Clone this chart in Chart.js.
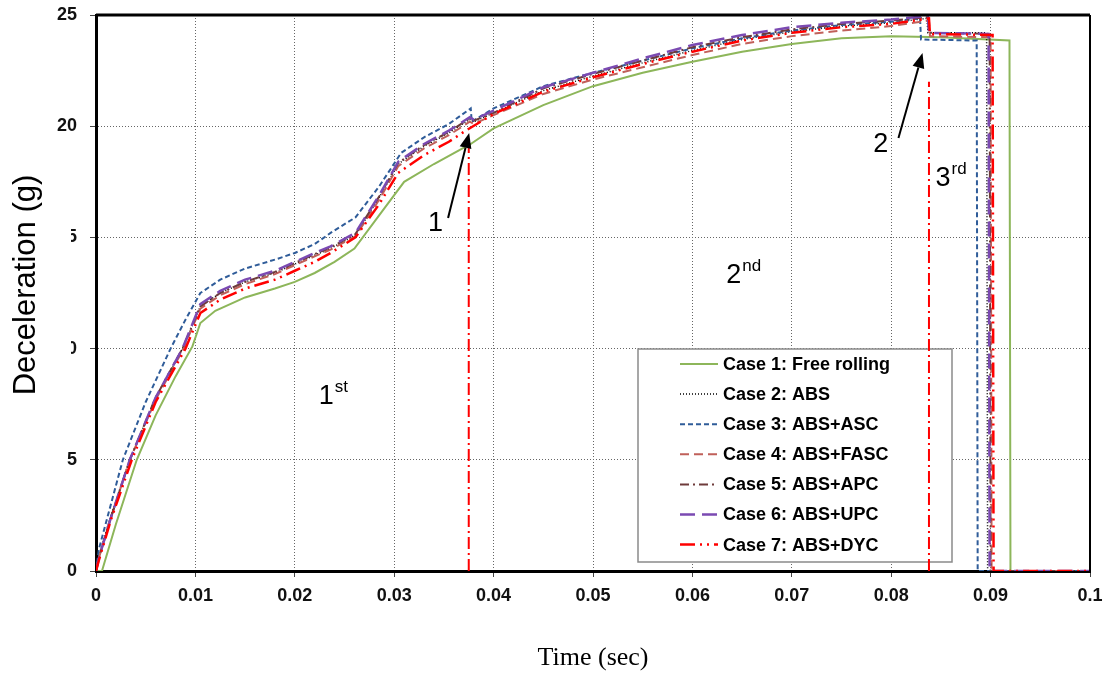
<!DOCTYPE html>
<html lang="en">
<head>
  <meta charset="UTF-8" />
  <title>Deceleration vs Time</title>
  <script src="https://cdn.jsdelivr.net/npm/chart.js@4"></script>
  <style>
    * {
      margin: 0;
      padding: 0;
      box-sizing: border-box;
    }

    body {
      background: #fff;
      width: 1108px;
      height: 677px;
      overflow: hidden;
    }

    .chart-box {
      position: relative;
      width: 1108px;
      height: 677px;
    }
  </style>
</head>
<body>

  <div class="chart-box">
    <canvas id="decelChart"></canvas>
  </div>

  <script>
    // Series: time (sec) and deceleration (g)
    const caseNames = [
      'Case 1: Free rolling', 'Case 2: ABS', 'Case 3: ABS+ASC', 'Case 4: ABS+FASC',
      'Case 5: ABS+APC', 'Case 6: ABS+UPC', 'Case 7: ABS+DYC'
    ];

    const case1T = [0, 0.0006, 0.002, 0.0041, 0.006, 0.008, 0.0097, 0.0105, 0.012, 0.015, 0.018, 0.020, 0.022, 0.024, 0.026, 0.0285, 0.031, 0.034, 0.0377, 0.040, 0.045, 0.050, 0.055, 0.060, 0.065, 0.070, 0.075, 0.080, 0.085, 0.0919, 0.0920, 0.100];
    const case1G = [0, 0, 2.1, 5.0, 7.0, 8.75, 10.1, 11.15, 11.7, 12.3, 12.7, 13.0, 13.4, 13.9, 14.5, 16.0, 17.5, 18.3, 19.2, 19.9, 20.95, 21.8, 22.4, 22.9, 23.35, 23.7, 23.95, 24.05, 24.0, 23.85, 0, 0];

    const case2T = [0, 0.0003, 0.0015, 0.0034, 0.006, 0.0087, 0.0105, 0.0125, 0.015, 0.018, 0.020, 0.022, 0.0236, 0.0261, 0.0285, 0.0304, 0.033, 0.0355, 0.0376, 0.0380, 0.040, 0.045, 0.050, 0.055, 0.060, 0.065, 0.070, 0.075, 0.080, 0.0836, 0.0837, 0.0896, 0.0897, 0.100];
    const case2G = [0, 0.7, 2.5, 5.0, 7.8, 10.0, 11.9, 12.5, 13.0, 13.4, 13.8, 14.2, 14.5, 15.1, 16.8, 18.3, 19.1, 19.7, 20.3, 20.2, 20.6, 21.6, 22.25, 22.85, 23.4, 23.9, 24.25, 24.5, 24.65, 24.85, 24.2, 24.2, 0, 0];

    const case3T = [0, 0.0003, 0.0015, 0.0027, 0.005, 0.0075, 0.009, 0.0105, 0.0125, 0.015, 0.018, 0.020, 0.022, 0.0236, 0.0261, 0.0285, 0.0307, 0.033, 0.0355, 0.0377, 0.0378, 0.040, 0.045, 0.050, 0.055, 0.060, 0.065, 0.070, 0.075, 0.080, 0.0829, 0.0830, 0.0886, 0.0887, 0.100];
    const case3G = [0, 1.0, 3.0, 5.0, 7.6, 10.0, 11.3, 12.5, 13.1, 13.6, 14.0, 14.3, 14.7, 15.2, 15.9, 17.3, 18.8, 19.5, 20.1, 20.8, 20.2, 20.8, 21.8, 22.4, 22.95, 23.5, 23.95, 24.3, 24.55, 24.7, 24.85, 23.9, 23.85, 0, 0];

    const case4T = [0, 0.0003, 0.0015, 0.0034, 0.006, 0.0087, 0.0105, 0.0125, 0.015, 0.018, 0.020, 0.022, 0.0236, 0.0261, 0.0285, 0.0304, 0.033, 0.0355, 0.0376, 0.0380, 0.040, 0.045, 0.050, 0.055, 0.060, 0.065, 0.070, 0.075, 0.080, 0.0838, 0.0839, 0.0900, 0.0901, 0.100];
    const case4G = [0, 0.6, 2.4, 5.0, 7.7, 9.9, 11.8, 12.4, 12.9, 13.35, 13.75, 14.15, 14.45, 15.05, 16.7, 18.2, 19.0, 19.6, 20.2, 20.1, 20.5, 21.45, 22.1, 22.65, 23.2, 23.7, 24.05, 24.3, 24.5, 24.75, 24.05, 24.0, 0, 0];

    const case5T = [0, 0.0003, 0.0015, 0.0034, 0.006, 0.0087, 0.0105, 0.0125, 0.015, 0.018, 0.020, 0.022, 0.0236, 0.0261, 0.0285, 0.0304, 0.033, 0.0355, 0.0376, 0.0380, 0.040, 0.045, 0.050, 0.055, 0.060, 0.065, 0.070, 0.075, 0.080, 0.0837, 0.0838, 0.0899, 0.0900, 0.100];
    const case5G = [0, 0.6, 2.4, 5.0, 7.8, 10.0, 11.9, 12.5, 13.0, 13.45, 13.85, 14.25, 14.55, 15.15, 16.85, 18.35, 19.15, 19.75, 20.35, 20.25, 20.6, 21.7, 22.35, 22.95, 23.55, 24.0, 24.35, 24.6, 24.75, 24.9, 24.2, 24.15, 0, 0];

    const case6T = [0, 0.0003, 0.0015, 0.0034, 0.006, 0.0087, 0.0105, 0.0125, 0.015, 0.018, 0.020, 0.022, 0.0236, 0.0261, 0.0285, 0.0304, 0.033, 0.0355, 0.0376, 0.0380, 0.040, 0.045, 0.050, 0.055, 0.060, 0.065, 0.070, 0.075, 0.080, 0.0837, 0.0838, 0.0898, 0.0899, 0.100];
    const case6G = [0, 0.6, 2.4, 5.0, 7.8, 10.0, 12.0, 12.6, 13.1, 13.5, 13.9, 14.3, 14.6, 15.2, 16.9, 18.4, 19.2, 19.8, 20.4, 20.3, 20.7, 21.75, 22.4, 23.05, 23.65, 24.1, 24.45, 24.65, 24.8, 24.95, 24.2, 24.15, 0, 0];

    const case7T = [0, 0.0003, 0.0015, 0.0036, 0.006, 0.009, 0.0105, 0.0125, 0.015, 0.018, 0.020, 0.022, 0.0236, 0.0261, 0.0285, 0.0304, 0.033, 0.0355, 0.0372, 0.040, 0.045, 0.050, 0.055, 0.060, 0.065, 0.070, 0.075, 0.080, 0.0838, 0.0839, 0.0902, 0.0903, 0.100];
    const case7G = [0, 0.5, 2.3, 5.0, 7.6, 10.0, 11.6, 12.2, 12.7, 13.1, 13.5, 13.9, 14.3, 15.0, 16.5, 17.9, 18.7, 19.3, 19.8, 20.55, 21.55, 22.2, 22.8, 23.35, 23.85, 24.2, 24.45, 24.6, 24.85, 24.15, 24.1, 0, 0];

    // red dash-dot phase boundaries (time, height of the line)
    const phaseT = [0.0375, 0.0838];
    const phaseTop = [19.3, 22.0];

    const seriesT = [case1T, case2T, case3T, case4T, case5T, case6T, case7T];
    const seriesG = [case1G, case2G, case3G, case4G, case5G, case6G, case7G];

    const styles = [
      { color: '#8DB65A', width: 2, dash: [] },
      { color: '#000000', width: 1.5, dash: [1, 2] },
      { color: '#2F5C99', width: 2, dash: [5, 3] },
      { color: '#C0605A', width: 2, dash: [9, 5] },
      { color: '#6E3B3B', width: 2, dash: [9, 4, 2, 4] },
      { color: '#7B4AB2', width: 2.5, dash: [15, 7] },
      { color: '#FF0000', width: 2.5, dash: [15, 5, 2, 5, 2, 5] }
    ];

    const datasets = seriesT.map((ts, k) => ({
      label: caseNames[k],
      data: ts.map((t, i) => ({ x: t, y: seriesG[k][i] })),
      showLine: true,
      borderColor: styles[k].color,
      borderWidth: styles[k].width,
      borderDash: styles[k].dash,
      pointRadius: 0,
      tension: 0,
      order: 8 - k
    }));

    phaseT.forEach((t, i) => {
      datasets.push({
        label: 'phase' + i,
        data: [{ x: t, y: 0 }, { x: t, y: phaseTop[i] }],
        showLine: true,
        borderColor: '#FF0000',
        borderWidth: 2,
        borderDash: [12, 4, 2, 4],
        pointRadius: 0,
        order: 0
      });
    });

    const sans = '"Liberation Sans", Arial, sans-serif';

    // Legend box, frame, arrows and phase labels
    const extrasPlugin = {
      id: 'extras',
      beforeDatasetsDraw(chart) {
        const ctx = chart.ctx;
        ctx.save();
        ctx.fillStyle = '#fff';
        ctx.fillRect(638, 349, 314, 213);
        ctx.strokeStyle = '#8a8a8a';
        ctx.lineWidth = 1.5;
        ctx.strokeRect(638, 349, 314, 213);
        ctx.font = 'bold 18px ' + sans;
        ctx.textBaseline = 'middle';
        caseNames.forEach((name, i) => {
          const y = 364 + i * 30.1;
          ctx.beginPath();
          ctx.setLineDash(styles[i].dash);
          ctx.strokeStyle = styles[i].color;
          ctx.lineWidth = styles[i].width;
          ctx.moveTo(680, y);
          ctx.lineTo(718, y);
          ctx.stroke();
          ctx.setLineDash([]);
          ctx.fillStyle = '#000';
          ctx.fillText(name, 723, y + 1);
        });
        ctx.restore();
      },
      afterDraw(chart) {
        const ctx = chart.ctx;
        const xs = chart.scales.x;
        const ys = chart.scales.y;
        const { left, right, top, bottom } = chart.chartArea;
        ctx.save();

        // top and right frame
        ctx.strokeStyle = '#000';
        ctx.lineWidth = 3;
        ctx.beginPath();
        ctx.moveTo(left, top);
        ctx.lineTo(right, top);
        ctx.stroke();
        ctx.lineWidth = 2;
        ctx.beginPath();
        ctx.moveTo(right, top);
        ctx.lineTo(right, bottom);
        ctx.stroke();

        // arrows
        const arrows = [
          { from: [0.03542, 15.87], to: [0.03754, 19.69] },
          { from: [0.08073, 19.47], to: [0.08315, 23.29] }
        ];
        arrows.forEach(a => {
          const x1 = xs.getPixelForValue(a.from[0]), y1 = ys.getPixelForValue(a.from[1]);
          const x2 = xs.getPixelForValue(a.to[0]), y2 = ys.getPixelForValue(a.to[1]);
          const ang = Math.atan2(y2 - y1, x2 - x1);
          const head = 15;
          ctx.strokeStyle = '#000';
          ctx.fillStyle = '#000';
          ctx.lineWidth = 2;
          ctx.beginPath();
          ctx.moveTo(x1, y1);
          ctx.lineTo(x2 - Math.cos(ang) * head, y2 - Math.sin(ang) * head);
          ctx.stroke();
          ctx.beginPath();
          ctx.moveTo(x2, y2);
          ctx.lineTo(x2 - Math.cos(ang) * head + Math.sin(ang) * 6, y2 - Math.sin(ang) * head - Math.cos(ang) * 6);
          ctx.lineTo(x2 - Math.cos(ang) * head - Math.sin(ang) * 6, y2 - Math.sin(ang) * head + Math.cos(ang) * 6);
          ctx.closePath();
          ctx.fill();
        });

        // labels
        const labels = [
          { at: [0.0334, 15.29], main: '1', sup: '' },
          { at: [0.0782, 18.84], main: '2', sup: '' },
          { at: [0.0224, 7.5], main: '1', sup: 'st' },
          { at: [0.0634, 12.95], main: '2', sup: 'nd' },
          { at: [0.08446, 17.3], main: '3', sup: 'rd' }
        ];
        ctx.fillStyle = '#000';
        ctx.textBaseline = 'alphabetic';
        ctx.textAlign = 'left';
        labels.forEach(l => {
          const x = xs.getPixelForValue(l.at[0]);
          const y = ys.getPixelForValue(l.at[1]);
          ctx.font = '27px ' + sans;
          ctx.fillText(l.main, x, y);
          if (l.sup) {
            const w = ctx.measureText(l.main).width;
            ctx.font = '17px ' + sans;
            ctx.fillText(l.sup, x + w + 1, y - 12);
          }
        });

        // y axis title, sitting over the tick labels as in the original
        ctx.fillStyle = '#fff';
        ctx.fillRect(0, 160, 71, 250);
        ctx.translate(26, 285);
        ctx.rotate(-Math.PI / 2);
        ctx.fillStyle = '#000';
        ctx.font = '31px ' + sans;
        ctx.textAlign = 'center';
        ctx.textBaseline = 'middle';
        ctx.fillText('Deceleration (g)', 0, 0);
        ctx.restore();
      }
    };

    const tickFont = { family: sans, size: 18, weight: 'bold' };

    new Chart(document.getElementById('decelChart'), {
      type: 'scatter',
      data: { datasets },
      options: {
        responsive: true,
        maintainAspectRatio: false,
        animation: false,
        layout: { padding: { top: 15, right: 18, left: 0, bottom: 0 } },
        plugins: {
          legend: { display: false },
          tooltip: { enabled: false }
        },
        scales: {
          x: {
            type: 'linear',
            min: 0,
            max: 0.1,
            ticks: {
              stepSize: 0.01,
              autoSkip: false,
              maxRotation: 0,
              padding: 8,
              color: '#111',
              font: tickFont,
              callback: v => String(Number(v.toFixed(2)))
            },
            grid: {
              color: c => (c.tick && c.tick.value === 0 ? 'transparent' : '#666'),
              tickColor: '#444',
              tickLength: 6,
              lineWidth: 1
            },
            border: { color: '#000', width: 3, dash: [1, 2] },
            title: {
              display: true,
              text: 'Time (sec)',
              color: '#000',
              font: { family: '"Liberation Serif", "Times New Roman", serif', size: 26 },
              padding: { top: 0, bottom: 3 }
            },
            afterFit: s => {
              s.height = 106;
              s.paddingLeft = 0;
              s.paddingRight = 0;
            }
          },
          y: {
            min: 0,
            max: 25,
            ticks: {
              stepSize: 5,
              padding: 13,
              color: '#111',
              font: tickFont
            },
            grid: {
              color: c => (c.tick && c.tick.value === 0 ? 'transparent' : '#666'),
              tickColor: '#444',
              tickLength: 6,
              lineWidth: 1
            },
            border: { color: '#000', width: 3, dash: [1, 2] },
            afterFit: s => {
              s.width = 96;
              s.paddingTop = 0;
              s.paddingBottom = 0;
            }
          }
        }
      },
      plugins: [extrasPlugin]
    });
  </script>

</body>
</html>
